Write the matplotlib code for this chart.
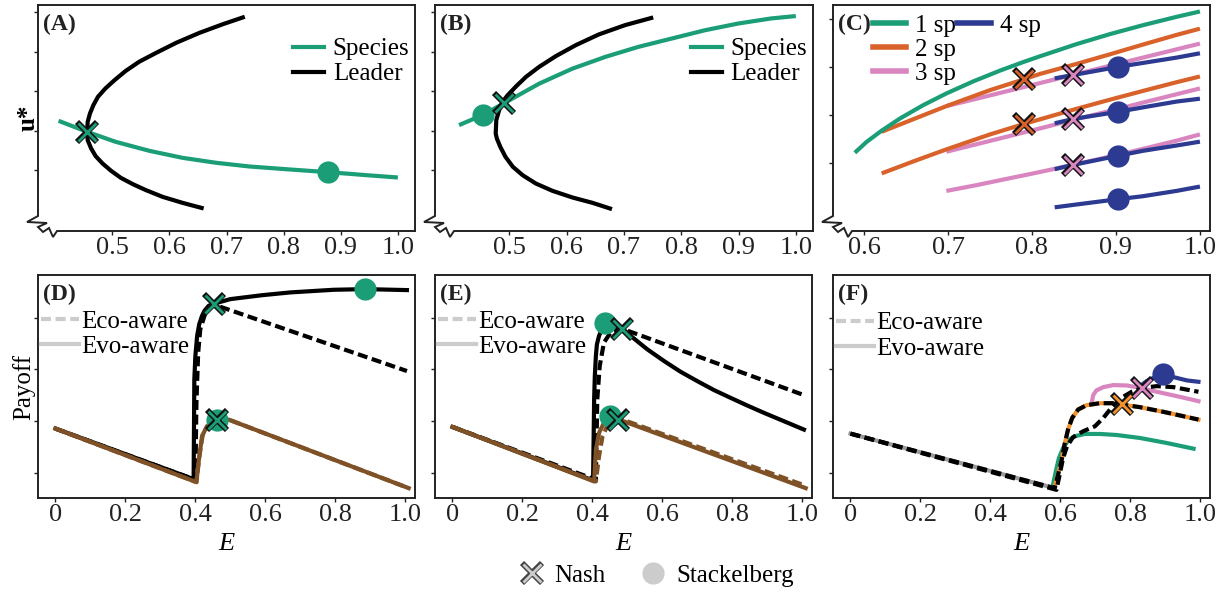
import matplotlib
matplotlib.use("Agg")
import matplotlib.pyplot as plt
from matplotlib.lines import Line2D
from matplotlib.legend_handler import HandlerTuple

plt.rcParams["font.family"] = ["Liberation Serif", "DejaVu Serif"]

GREEN = "#1b9e77"
ORANGE = "#d9622b"
LORANGE = "#f3922f"
PINK = "#d986c0"
BLUE = "#2c3a92"
BROWN = "#7f5127"
LGRAY = "#cccccc"
INK = "#222222"

# ---- (A) ----
a_species_x = [0.406, 0.456, 0.506, 0.565, 0.623, 0.682, 0.740, 0.811, 0.878, 0.945, 1.0]
a_species_y = [1.249, 0.970, 0.717, 0.489, 0.312, 0.186, 0.093, 0.017, -0.051, -0.127, -0.186]
a_leader_x = [0.660, 0.623, 0.588, 0.559, 0.536, 0.515, 0.498, 0.483, 0.471, 0.463, 0.457, 0.456,
              0.457, 0.461, 0.467, 0.475, 0.488, 0.504, 0.523, 0.547, 0.577, 0.612, 0.653, 0.694, 0.732]
a_leader_y = [-0.970, -0.827, -0.675, -0.506, -0.354, -0.194, -0.017, 0.169, 0.354, 0.549, 0.759, 0.970,
              1.224, 1.435, 1.646, 1.857, 2.068, 2.278, 2.506, 2.743, 2.970, 3.224, 3.477, 3.696, 3.882]
a_nash = (0.456, 0.97)
a_stack = (0.878, -0.051)

# ---- (B) ----
b_species_x = [0.412, 0.454, 0.490, 0.552, 0.610, 0.668, 0.725, 0.783, 0.841, 0.899, 0.957, 1.0]
b_species_y = [1.14, 1.40, 1.69, 2.19, 2.57, 2.87, 3.12, 3.33, 3.54, 3.71, 3.84, 3.90]
b_leader_x = [0.679, 0.645, 0.610, 0.575, 0.546, 0.523, 0.506, 0.493, 0.484, 0.478, 0.476,
              0.477, 0.482, 0.488, 0.497, 0.512, 0.529, 0.552, 0.581, 0.616, 0.656, 0.702, 0.751]
b_leader_y = [-0.987, -0.827, -0.692, -0.523, -0.338, -0.127, 0.084, 0.338, 0.591, 0.800, 0.928,
              1.266, 1.519, 1.730, 1.899, 2.127, 2.363, 2.616, 2.886, 3.165, 3.435, 3.671, 3.865]
b_nash = (0.490, 1.69)
b_stack = (0.454, 1.40)

# ---- (C) ----
c_sp1_x = [0.589, 0.603, 0.621, 0.643, 0.670, 0.698, 0.730, 0.762, 0.790, 0.809, 0.853, 0.893, 0.933, 0.972, 1.0]
c_sp1_y = [0.221, 0.445, 0.679, 0.932, 1.202, 1.448, 1.698, 1.922, 2.101, 2.215, 2.47, 2.678, 2.866, 3.034, 3.146]
c_sp2_x = [0.621, 0.660, 0.698, 0.750, 0.791, 0.809, 0.853, 0.893, 0.932, 0.972, 1.0]
c_sp2_hi = [0.655, 0.924, 1.186, 1.517, 1.745, 1.85, 2.06, 2.26, 2.46, 2.66, 2.79]
c_sp2_lo = [-0.207, 0.05, 0.29, 0.60, 0.82, 0.91, 1.13, 1.32, 1.50, 1.68, 1.80]
c_sp3_x = [0.698, 0.734, 0.770, 0.809, 0.849, 0.903, 0.932, 0.972, 1.0]
c_sp3_hi = [1.186, 1.339, 1.494, 1.661, 1.834, 2.066, 2.19, 2.361, 2.481]
c_sp3_mid = [0.241, 0.397, 0.553, 0.722, 0.90, 1.131, 1.259, 1.431, 1.552]
c_sp3_lo = [-0.57, -0.45, -0.32, -0.18, -0.03, 0.18, 0.30, 0.47, 0.60]
c_sp4_x = [0.827, 0.849, 0.903, 0.932, 0.972, 1.0]
c_sp4_1 = [1.76, 1.83, 2.00, 2.08, 2.19, 2.28]
c_sp4_2 = [0.83, 0.92, 1.07, 1.16, 1.28, 1.34]
c_sp4_3 = [-0.12, -0.03, 0.16, 0.26, 0.37, 0.45]
c_sp4_4 = [-0.91, -0.86, -0.74, -0.68, -0.57, -0.48]
c_nash2_x = [0.791, 0.791]
c_nash2_y = [1.745, 0.82]
c_nash3_x = [0.849, 0.849, 0.849]
c_nash3_y = [1.834, 0.91, -0.03]
c_stack4_x = [0.903, 0.903, 0.903, 0.903]
c_stack4_y = [2.00, 1.07, 0.16, -0.74]

# ---- (D) ----
d_evo_sp_x = [0, 0.403, 0.410, 0.419, 0.433, 0.462, 0.495, 0.671, 1.01]
d_evo_sp_y = [0.858, -0.174, 0.258, 0.710, 0.903, 1.0, 1.032, 0.581, -0.29]
d_eco_sp_x = [0, 0.403, 0.411, 0.421, 0.436, 0.462, 0.495, 1.01]
d_eco_sp_y = [0.858, -0.174, 0.30, 0.74, 0.92, 1.01, 1.032, -0.29]
d_evo_ld_x = [0, 0.395, 0.397, 0.400, 0.405, 0.411, 0.419, 0.426, 0.438, 0.452, 0.5, 0.59, 0.671, 0.795, 0.886, 1.005]
d_evo_ld_y = [0.858, -0.116, 1.806, 2.258, 2.645, 2.871, 3.032, 3.129, 3.226, 3.265, 3.355, 3.43, 3.484, 3.535, 3.548, 3.529]
d_eco_ld_x = [0, 0.400, 0.403, 0.408, 0.414, 0.429, 0.452, 1.005]
d_eco_ld_y = [0.858, -0.129, 1.355, 2.323, 2.774, 3.097, 3.252, 1.968]
d_nash_x = [0.452, 0.462]
d_nash_y = [3.26, 1.02]
d_stack_x = [0.886, 0.462]
d_stack_y = [3.548, 1.02]

# ---- (E) ----
e_evo_ld_x = [0, 0.402, 0.405, 0.407, 0.410, 0.413, 0.419, 0.427, 0.436, 0.484, 0.519, 0.557, 0.605,
              0.652, 0.700, 0.748, 0.795, 0.843, 0.891, 0.948, 1.005]
e_evo_ld_y = [0.890, -0.142, 1.419, 1.871, 2.258, 2.484, 2.645, 2.774, 2.890, 2.787, 2.594, 2.387, 2.161,
              1.955, 1.774, 1.600, 1.452, 1.303, 1.161, 1.0, 0.839]
e_eco_ld_x = [0, 0.41, 0.414, 0.421, 0.433, 0.452, 0.484, 1.0]
e_eco_ld_y = [0.890, -0.129, 1.419, 2.065, 2.516, 2.71, 2.787, 1.516]
e_evo_sp_x = [0, 0.405, 0.410, 0.419, 0.433, 0.452, 0.476, 1.01]
e_evo_sp_y = [0.890, -0.161, 0.452, 0.774, 0.968, 1.065, 1.032, -0.29]
e_eco_sp_x = [0, 0.41, 0.419, 0.429, 0.443, 0.462, 0.481, 1.01]
e_eco_sp_y = [0.890, -0.161, 0.323, 0.710, 0.916, 1.019, 1.045, -0.245]
e_nash_x = [0.484, 0.474]
e_nash_y = [2.787, 1.02]
e_stack_x = [0.436, 0.450]
e_stack_y = [2.903, 1.11]

# ---- (F) ----
f_base_x = [0, 0.584]
f_base_y = [0.761, -0.29]
f_sp1_x = [0.579, 0.587, 0.596, 0.608, 0.622, 0.641, 0.670, 0.713, 0.761, 0.828, 0.904, 0.981]
f_sp1_y = [-0.226, 0.032, 0.290, 0.484, 0.626, 0.710, 0.755, 0.755, 0.735, 0.677, 0.581, 0.471]
f_sp2_x = [0.584, 0.603, 0.612, 0.622, 0.634, 0.651, 0.675, 0.713, 0.751, 0.775, 0.828, 0.895, 0.943, 0.995]
f_sp2_y = [-0.258, 0.226, 0.548, 0.839, 1.065, 1.226, 1.310, 1.348, 1.348, 1.323, 1.271, 1.181, 1.110, 1.032]
f_sp3_x = [0.689, 0.694, 0.703, 0.723, 0.751, 0.790, 0.828, 0.876, 0.933, 0.995]
f_sp3_y = [1.33, 1.503, 1.594, 1.658, 1.697, 1.690, 1.645, 1.568, 1.484, 1.387]
f_sp4_x = [0.828, 0.847, 0.871, 0.895, 0.923, 0.962, 0.995]
f_sp4_y = [1.677, 1.774, 1.852, 1.890, 1.852, 1.787, 1.761]
f_eco2_x = [0, 0.584, 0.603, 0.612, 0.622, 0.634, 0.651, 0.675, 0.713, 0.751, 0.775, 0.828, 0.895, 0.943, 0.995]
f_eco2_y = [0.761, -0.29, 0.226, 0.548, 0.839, 1.065, 1.226, 1.310, 1.348, 1.348, 1.323, 1.271, 1.181, 1.110, 1.032]
f_eco3_x = [0, 0.589, 0.598, 0.608, 0.619, 0.636, 0.665, 0.699, 0.723, 0.746, 0.775, 0.804, 0.837, 0.876, 0.923, 0.995]
f_eco3_y = [0.761, -0.323, -0.032, 0.290, 0.516, 0.690, 0.806, 0.903, 1.065, 1.258, 1.452, 1.568, 1.645, 1.677, 1.658, 1.568]
f_nash2 = (0.775, 1.323)
f_nash3 = (0.833, 1.645)
f_stack4 = (0.895, 1.916)

E_TICKS = [0, 0.2, 0.4, 0.6, 0.8, 1.0]
E_LABELS = ["0", "0.2", "0.4", "0.6", "0.8", "1.0"]

fig = plt.figure(figsize=(12.25, 5.95), dpi=100)


def px_axes(l, t, r, b):
    return fig.add_axes([l / 1225, 1 - b / 595, (r - l) / 1225, (b - t) / 595])


def style(ax):
    for s in ax.spines.values():
        s.set_linewidth(1.4)
        s.set_color(INK)
    ax.tick_params(direction="out", length=3, width=1, colors=INK, labelsize=19, pad=1)
    ax.set_yticklabels([])


def broken_corner(ax):
    # zig-zag axis break at the lower-left corner
    ax.spines["left"].set_visible(False)
    ax.spines["bottom"].set_visible(False)
    bb = ax.get_position()
    W = bb.width * 1225
    H = bb.height * 595
    pts = [(0, H), (0, 15), (-11, 9), (9, 8), (0, 4), (5, -1), (11, 3), (15, -6), (19, 0), (W, 0)]
    ax.plot([p[0] / W for p in pts], [p[1] / H for p in pts], transform=ax.transAxes,
            color=INK, lw=1.4, clip_on=False, solid_joinstyle="miter")


def nash(ax, x, y, color, ms=14):
    ax.plot(x, y, ls="none", marker="x", ms=ms, mew=4.2, color="#111111", zorder=6)
    ax.plot(x, y, ls="none", marker="x", ms=ms - 1.6, mew=2.0, color=color, zorder=7)


def stack(ax, x, y, color):
    ax.plot(x, y, ls="none", marker="o", ms=16, color=color, mew=0, zorder=5)


def panel_label(ax, s):
    ax.text(0.012, 0.96, s, transform=ax.transAxes, ha="left", va="top",
            fontsize=17, fontweight="bold", color=INK)


LW = 3.0
DASH = (2.4, 1.1)

# ===== top row =====
axA = px_axes(38, 5, 415, 231)
axB = px_axes(435, 5, 813, 231)
axC = px_axes(833, 5, 1210, 231)

for ax, sx, sy, lx, ly, nx, st in [
    (axA, a_species_x, a_species_y, a_leader_x, a_leader_y, a_nash, a_stack),
    (axB, b_species_x, b_species_y, b_leader_x, b_leader_y, b_nash, b_stack),
]:
    ax.plot(lx, ly, color="black", lw=LW, solid_capstyle="butt")
    ax.plot(sx, sy, color=GREEN, lw=LW, solid_capstyle="butt")
    stack(ax, [st[0]], [st[1]], GREEN)
    nash(ax, [nx[0]], [nx[1]], GREEN)
    ax.set_xlim(0.37, 1.03)
    ax.set_ylim(-1.54, 4.18)
    ax.set_xticks([0.5, 0.6, 0.7, 0.8, 0.9, 1.0])
    ax.set_xticklabels(["0.5", "0.6", "0.7", "0.8", "0.9", "1.0"])
    ax.set_yticks([0, 1, 2, 3, 4])
    style(ax)
    broken_corner(ax)
    h = [Line2D([], [], color=GREEN, lw=LW), Line2D([], [], color="black", lw=LW)]
    ax.legend(h, ["Species", "Leader"], loc="upper right", bbox_to_anchor=(0.985, 0.855),
              frameon=False, fontsize=18, handlelength=1.25, handletextpad=0.35,
              labelspacing=0.1, borderpad=0, borderaxespad=0)

axA.set_ylabel("u*", fontsize=18, fontweight="bold", labelpad=-5)
panel_label(axA, "(A)")
panel_label(axB, "(B)")

# (C)
for yy in [c_sp3_hi, c_sp3_mid, c_sp3_lo]:
    axC.plot(c_sp3_x, yy, color=PINK, lw=LW, solid_capstyle="butt")
for yy in [c_sp4_1, c_sp4_2, c_sp4_3, c_sp4_4]:
    axC.plot(c_sp4_x, yy, color=BLUE, lw=LW, solid_capstyle="butt")
for yy in [c_sp2_hi, c_sp2_lo]:
    axC.plot(c_sp2_x, yy, color=ORANGE, lw=LW, solid_capstyle="butt")
axC.plot(c_sp1_x, c_sp1_y, color=GREEN, lw=LW, solid_capstyle="butt")
stack(axC, c_stack4_x, c_stack4_y, BLUE)
nash(axC, c_nash2_x, c_nash2_y, ORANGE)
nash(axC, c_nash3_x, c_nash3_y, PINK)
axC.set_xlim(0.563, 1.012)
axC.set_ylim(-1.40, 3.28)
axC.set_xticks([0.6, 0.7, 0.8, 0.9, 1.0])
axC.set_xticklabels(["0.6", "0.7", "0.8", "0.9", "1.0"])
axC.set_yticks([0, 1, 2, 3])
style(axC)
broken_corner(axC)
panel_label(axC, "(C)")
legC1 = axC.legend([Line2D([], [], color=c, lw=4) for c in (GREEN, ORANGE, PINK)],
                   ["1 sp", "2 sp", "3 sp"], loc="upper left", bbox_to_anchor=(0.105, 0.96),
                   frameon=False, fontsize=18, handlelength=1.35, handletextpad=0.35,
                   labelspacing=0.06, borderpad=0, borderaxespad=0)
axC.add_artist(legC1)
axC.legend([Line2D([], [], color=BLUE, lw=4)], ["4 sp"], loc="upper left",
           bbox_to_anchor=(0.33, 0.96), frameon=False, fontsize=18, handlelength=1.35,
           handletextpad=0.35, borderpad=0, borderaxespad=0)

# ===== bottom row =====
axD = px_axes(38, 275, 415, 498)
axE = px_axes(435, 275, 812, 498)
axF = px_axes(833, 275, 1210, 498)

for ax, (ex, ey), (vx, vy), (esx, esy), (vsx, vsy) in [
    (axD, (d_eco_ld_x, d_eco_ld_y), (d_evo_ld_x, d_evo_ld_y), (d_eco_sp_x, d_eco_sp_y), (d_evo_sp_x, d_evo_sp_y)),
    (axE, (e_eco_ld_x, e_eco_ld_y), (e_evo_ld_x, e_evo_ld_y), (e_eco_sp_x, e_eco_sp_y), (e_evo_sp_x, e_evo_sp_y)),
]:
    ax.plot(ex, ey, color="black", lw=LW, dashes=DASH)
    ax.plot(vx, vy, color="black", lw=LW)
    ax.plot(vsx, vsy, color=BROWN, lw=LW)
    ax.plot(esx, esy, color=BROWN, lw=LW, dashes=DASH)

stack(axD, d_stack_x, d_stack_y, GREEN)
nash(axD, d_nash_x, d_nash_y, GREEN)
stack(axE, e_stack_x, e_stack_y, GREEN)
nash(axE, e_nash_x, e_nash_y, GREEN)

# (F)
axF.plot(f_base_x, f_base_y, color="#9a9a9a", lw=LW)
axF.plot(f_sp1_x, f_sp1_y, color=GREEN, lw=LW)
axF.plot(f_sp3_x, f_sp3_y, color=PINK, lw=LW)
axF.plot(f_sp4_x, f_sp4_y, color=BLUE, lw=LW)
axF.plot(f_sp2_x, f_sp2_y, color=LORANGE, lw=LW)
axF.plot(f_eco3_x, f_eco3_y, color="black", lw=LW, dashes=DASH)
axF.plot(f_eco2_x, f_eco2_y, color="black", lw=LW, dashes=DASH)
stack(axF, [f_stack4[0]], [f_stack4[1]], BLUE)
nash(axF, [f_nash2[0]], [f_nash2[1]], LORANGE)
nash(axF, [f_nash3[0]], [f_nash3[1]], PINK)

for ax, lab, top in [(axD, "(D)", 0.843), (axE, "(E)", 0.843), (axF, "(F)", 0.835)]:
    ax.set_xlim(-0.05, 1.028)
    ax.set_ylim(-0.48, 3.82)
    ax.set_xticks(E_TICKS)
    ax.set_xticklabels(E_LABELS)
    ax.set_yticks([0, 1, 2, 3])
    style(ax)
    ax.set_xlabel("E", fontsize=19, style="italic", labelpad=5)
    panel_label(ax, lab)
    h = [Line2D([], [], color=LGRAY, lw=LW, dashes=DASH), Line2D([], [], color=LGRAY, lw=LW)]
    ax.legend(h, ["Eco-aware", "Evo-aware"], loc="upper left", bbox_to_anchor=(0.008, top),
              frameon=False, fontsize=18, handlelength=1.5, handletextpad=0.1,
              labelspacing=0.12, borderpad=0, borderaxespad=0)

axD.set_ylabel("Payoff", fontsize=18, labelpad=-2)

# shared marker legend
nash_h = (Line2D([], [], ls="none", marker="x", ms=14, mew=4.2, color="#444444"),
          Line2D([], [], ls="none", marker="x", ms=12.4, mew=2.0, color=LGRAY))
stack_h = Line2D([], [], ls="none", marker="o", ms=16, color=LGRAY, mew=0)
fig.legend([nash_h, stack_h], ["Nash", "Stackelberg"], loc="center",
           bbox_to_anchor=(0.536, 0.032), ncol=2, frameon=False, fontsize=18,
           handler_map={tuple: HandlerTuple(ndivide=1, pad=0)},
           handlelength=1.0, handletextpad=0.4, columnspacing=1.4)

fig.savefig("out.png", dpi=100)
